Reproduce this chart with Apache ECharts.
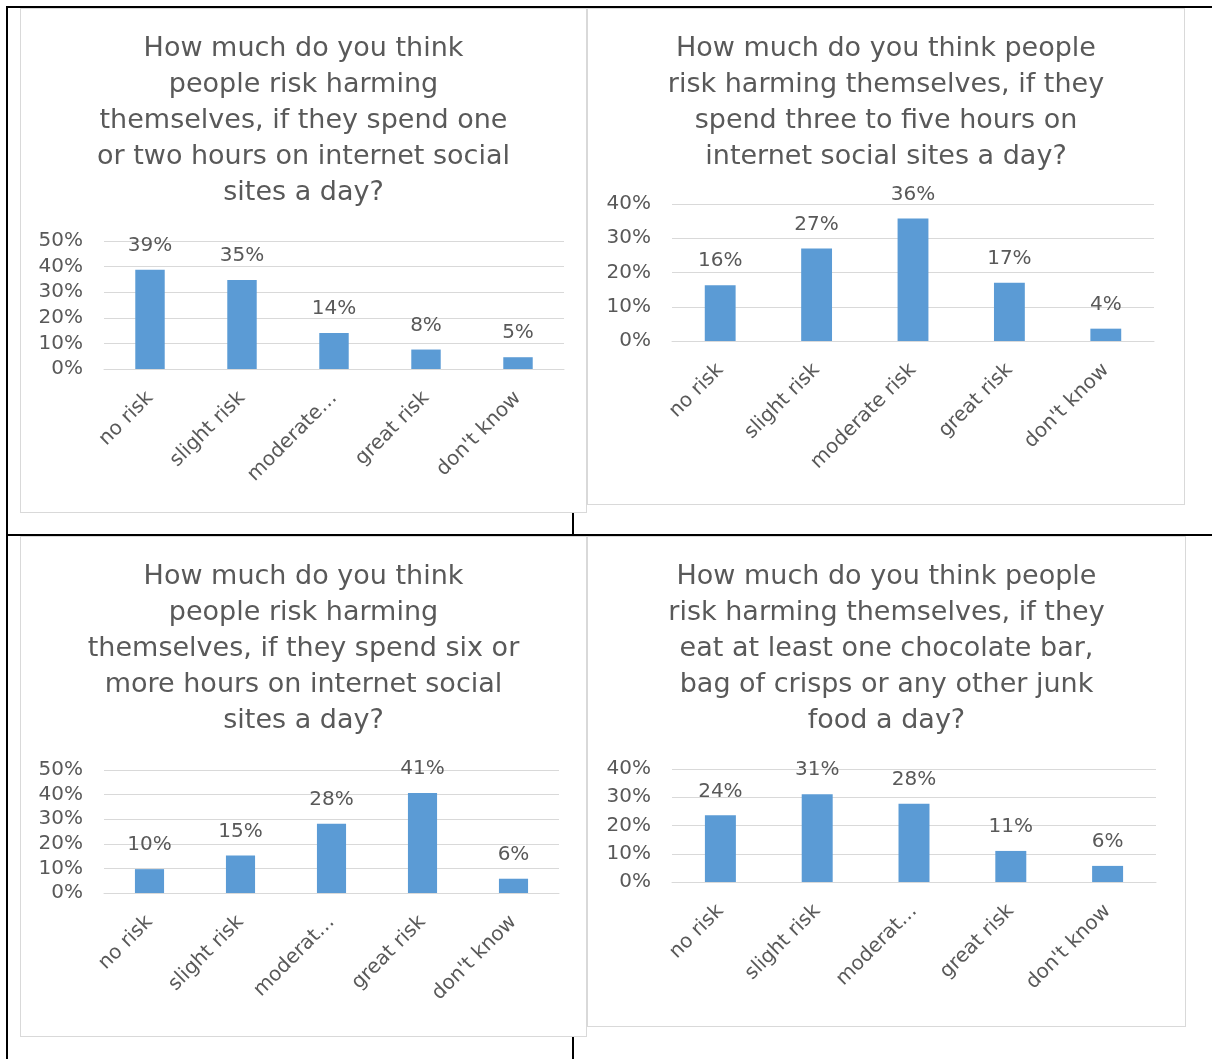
<!DOCTYPE html>
<html>
<head>
<meta charset="utf-8">
<script src="https://cdn.jsdelivr.net/npm/echarts@6/dist/echarts.min.js"></script>
<style>
  body { margin: 0; background: #fff; }
  #page { position: relative; width: 1212px; height: 1059px; background: #fff; overflow: hidden; }
  .rule { position: absolute; background: #000; }
  .box { position: absolute; background: #fff; box-shadow: inset 0 0 0 1px #d9d9d9; }
</style>
</head>
<body>
<div id="page">
  <div class="rule" style="left:6px;top:6px;width:1206px;height:2px"></div>
  <div class="rule" style="left:6px;top:6px;width:2px;height:1053px"></div>
  <div class="rule" style="left:6px;top:534px;width:1206px;height:2px"></div>
  <div class="rule" style="left:572px;top:505px;width:2px;height:30px"></div>
  <div class="rule" style="left:572px;top:1030px;width:2px;height:29px"></div>
  <div class="box" id="chart1" style="left:20px;top:8px;width:567px;height:505px"></div>
  <div class="box" id="chart2" style="left:587px;top:8px;width:598px;height:497px"></div>
  <div class="box" id="chart3" style="left:20px;top:536px;width:567px;height:501px"></div>
  <div class="box" id="chart4" style="left:587px;top:536px;width:599px;height:491px"></div>
</div>
<script>
// categories (as shown on each axis, Excel truncated some)
var cats1 = ["no risk", "slight risk", "moderate…", "great risk", "don't know"];
var cats2 = ["no risk", "slight risk", "moderate risk", "great risk", "don't know"];
var cats3 = ["no risk", "slight risk", "moderat…", "great risk", "don't know"];
var cats4 = ["no risk", "slight risk", "moderat…", "great risk", "don't know"];

// percent of answers
var oneTwoHours = [38.8, 34.8, 14.1, 7.6, 4.6];
var threeFiveHours = [16.3, 27.0, 35.8, 17.0, 3.6];
var sixPlusHours = [9.7, 15.2, 28.2, 40.7, 5.8];
var junkFood = [23.6, 31.1, 27.7, 11.0, 5.7];

// y axis top tick (%)
var yMax1 = 50, yMax2 = 40, yMax3 = 50, yMax4 = 40;

var title1 = "How much do you think\npeople risk harming\nthemselves, if they spend one\nor two hours on internet social\nsites a day?";
var title2 = "How much do you think people\nrisk harming themselves, if they\nspend three to five hours on\ninternet social sites a day?";
var title3 = "How much do you think\npeople risk harming\nthemselves, if they spend six or\nmore hours on internet social\nsites a day?";
var title4 = "How much do you think people\nrisk harming themselves, if they\neat at least one chocolate bar,\nbag of crisps or any other junk\nfood a day?";

var FONT = "DejaVu Sans";
var TXT = "#595959";

function makeOption(title, cats, vals, yMax, grid, titleTop) {
  return {
    animation: false,
    title: {
      text: title,
      left: "center",
      top: titleTop,
      textStyle: {
        fontFamily: FONT,
        fontSize: 27,
        fontWeight: "normal",
        color: TXT,
        lineHeight: 36,
      },
    },
    grid: grid,
    xAxis: {
      type: "category",
      data: cats,
      axisLine: { lineStyle: { color: "#d9d9d9", width: 1 } },
      axisTick: { show: false },
      axisLabel: {
        interval: 0,
        rotate: 45,
        margin: 26,
        fontFamily: FONT,
        fontSize: 20,
        color: TXT,
      },
    },
    yAxis: {
      type: "value",
      min: 0,
      max: yMax,
      interval: 10,
      axisLine: { show: false },
      axisTick: { show: false },
      splitLine: { lineStyle: { color: "#d9d9d9", width: 1 } },
      axisLabel: {
        formatter: "{value}%",
        margin: 21,
        fontFamily: FONT,
        fontSize: 20,
        color: TXT,
      },
    },
    series: [
      {
        type: "bar",
        data: vals,
        barCategoryGap: "68%",
        itemStyle: { color: "#5b9bd5" },
        label: {
          show: true,
          position: "top",
          distance: 14,
          fontFamily: FONT,
          fontSize: 20,
          color: TXT,
          formatter: function (p) {
            return Math.round(p.value) + "%";
          },
        },
      },
    ],
  };
}

var chart1 = echarts.init(document.getElementById("chart1"));
chart1.setOption(makeOption(title1, cats1, oneTwoHours, yMax1,
  { left: 84, top: 233, width: 460, height: 128 }, 18));

var chart2 = echarts.init(document.getElementById("chart2"));
chart2.setOption(makeOption(title2, cats2, threeFiveHours, yMax2,
  { left: 85, top: 196, width: 482, height: 137 }, 18));

var chart3 = echarts.init(document.getElementById("chart3"));
chart3.setOption(makeOption(title3, cats3, sixPlusHours, yMax3,
  { left: 84, top: 234, width: 455, height: 123 }, 18));

var chart4 = echarts.init(document.getElementById("chart4"));
chart4.setOption(makeOption(title4, cats4, junkFood, yMax4,
  { left: 85, top: 233, width: 484, height: 113 }, 18));
</script>
</body>
</html>
